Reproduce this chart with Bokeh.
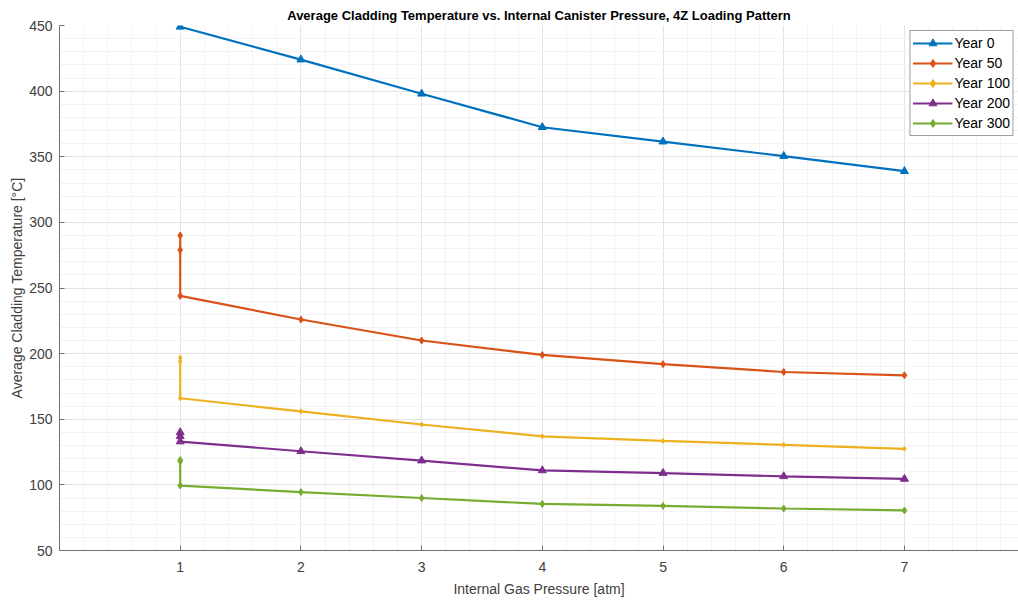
from bokeh.plotting import figure
from bokeh.models import Range1d, FixedTicker, Legend
from bokeh.embed import file_html
from bokeh.resources import INLINE

# ---- data ----
series_names = ["Year 0", "Year 50", "Year 100", "Year 200", "Year 300"]
x_year0 = [1, 2, 3, 4, 5, 6, 7]
y_year0 = [449, 424, 398, 372.5, 361.5, 350.5, 339]
x_year50 = [1, 1, 1, 2, 3, 4, 5, 6, 7]
y_year50 = [290, 279, 244, 226, 210, 199, 192, 186, 183.5]
x_year100 = [1, 1, 1, 2, 3, 4, 5, 6, 7]
y_year100 = [197, 194, 166, 156, 146, 137, 133.5, 130.5, 127.5]
x_year200 = [1, 1, 1, 2, 3, 4, 5, 6, 7]
y_year200 = [140, 137, 133, 125.6, 118.5, 111, 109, 106.5, 104.5]
x_year300 = [1, 1, 1, 2, 3, 4, 5, 6, 7]
y_year300 = [119, 118, 99.5, 94.5, 90, 85.5, 84, 82, 80.5]
x_ticks = [1, 2, 3, 4, 5, 6, 7]
y_ticks = [50, 100, 150, 200, 250, 300, 350, 400, 450]

colors = ["#0072BD", "#D95319", "#EDB120", "#7E2F8E", "#77AC30"]
markers = ["triangle", "diamond", "diamond", "triangle", "diamond"]
msizes = [8, 7, 5, 8, 7]
xs = [x_year0, x_year50, x_year100, x_year200, x_year300]
ys = [y_year0, y_year50, y_year100, y_year200, y_year300]

FONT = "Liberation Sans"

p = figure(width=1018, height=600, output_backend="svg", toolbar_location=None,
           x_range=Range1d(0, 7.945), y_range=Range1d(50, 450),
           min_border_left=59, min_border_right=0, min_border_top=25, min_border_bottom=50,
           title="Average Cladding Temperature vs. Internal Canister Pressure, 4Z Loading Pattern")
p.outline_line_color = None
p.background_fill_color = "white"
p.border_fill_color = "white"

p.title.align = "center"
p.title.text_font = FONT
p.title.text_font_size = "13px"
p.title.text_font_style = "bold"
p.title.text_color = "#000000"
p.title.standoff = 6
p.title.offset = 0

for ax in (p.xaxis[0], p.yaxis[0]):
    ax.axis_line_color = "#707070"
    ax.major_tick_line_color = "#707070"
    ax.major_tick_in = 5
    ax.major_tick_out = 0
    ax.minor_tick_in = 0
    ax.minor_tick_out = 0
    ax.major_label_text_font = FONT
    ax.major_label_text_font_size = "14px"
    ax.major_label_text_color = "#404040"
    ax.axis_label_text_font = FONT
    ax.axis_label_text_font_size = "14px"
    ax.axis_label_text_font_style = "normal"
    ax.axis_label_text_color = "#404040"

p.xaxis.ticker = FixedTicker(ticks=x_ticks, minor_ticks=[i * 0.2 for i in range(0, 41)])
p.yaxis.ticker = FixedTicker(ticks=y_ticks, minor_ticks=list(range(50, 451, 10)))
p.xaxis.axis_label = "Internal Gas Pressure [atm]"
p.yaxis.axis_label = "Average Cladding Temperature [°C]"
p.xaxis.major_label_standoff = 11
p.yaxis.major_label_standoff = 7
p.xaxis.axis_label_standoff = 6
p.yaxis.axis_label_standoff = 1

p.xgrid.grid_line_color = "#e3e3e3"
p.ygrid.grid_line_color = "#e3e3e3"
p.xgrid.minor_grid_line_color = "#f3f3f3"
p.ygrid.minor_grid_line_color = "#f3f3f3"

items = []
for name, x, y, c, m, s in zip(series_names, xs, ys, colors, markers, msizes):
    r1 = p.line(x, y, line_color=c, line_width=2.2)
    r2 = p.scatter(x, y, marker=m, size=s, fill_color=c, line_color=c)
    items.append((name, [r1, r2]))

legend = Legend(items=items, location="top_right")
legend.label_text_font = FONT
legend.label_text_font_size = "14px"
legend.label_text_color = "#000000"
legend.glyph_width = 40
legend.glyph_height = 20
legend.label_height = 20
legend.label_standoff = 2
legend.spacing = 0
legend.padding = 2
legend.margin = 5
legend.border_line_color = "#404040"
legend.border_line_width = 1
legend.background_fill_alpha = 1
p.add_layout(legend)

open("out.html", "w").write(file_html(p, INLINE))
